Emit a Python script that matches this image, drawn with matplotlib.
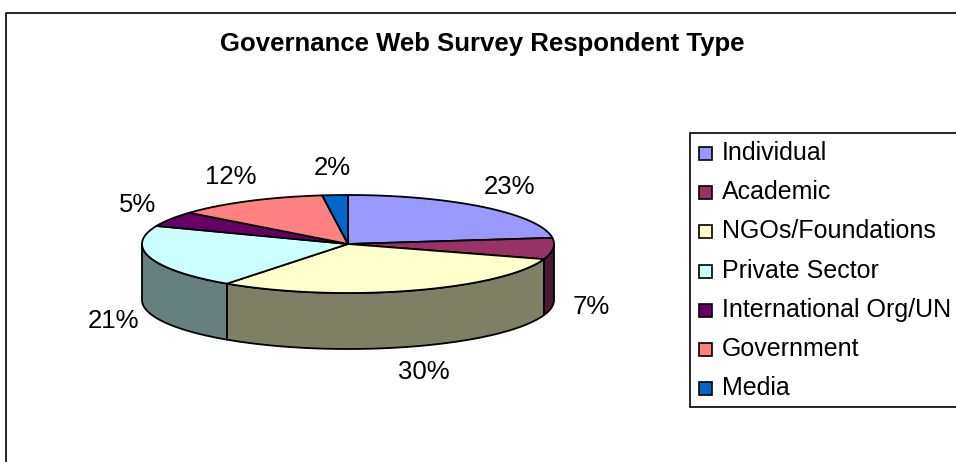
import matplotlib
matplotlib.use("Agg")
import matplotlib.pyplot as plt
import numpy as np
from matplotlib.patches import Polygon, Rectangle

plt.rcParams["font.family"] = ["Liberation Sans", "DejaVu Sans"]

title = "Governance Web Survey Respondent Type"
categories = ["Individual", "Academic", "NGOs/Foundations", "Private Sector",
              "International Org/UN", "Government", "Media"]
shares = [23, 7, 30, 21, 5, 12, 2]
top_colors = ["#9999FF", "#993366", "#FFFFCC", "#CCFFFF", "#660066", "#FF8080", "#0066CC"]
side_colors = ["#4C4C7F", "#4C1933", "#7F7F66", "#667F7F", "#330033", "#7F4040", "#003366"]

# pie geometry in pixel space
cx, cy = 348, 244
a, b = 206, 49
depth = 56


def rim(theta_deg, dy=0.0):
    t = np.radians(theta_deg)
    return np.column_stack([cx + a * np.cos(t), cy - b * np.sin(t) + dy])


fig = plt.figure(figsize=(9.56, 4.62), dpi=100)
ax = fig.add_axes([0, 0, 1, 1])
ax.set_xlim(0, 956)
ax.set_ylim(462, 0)
ax.axis("off")

# chart area border (right/bottom cut off)
ax.plot([6, 6, 956], [462, 12.5, 12.5], color="black", lw=1.2)

ax.text(482, 44, title, ha="center", va="center", fontsize=18.5, fontweight="bold")

total = float(sum(shares))
starts, ends = [], []
ang = 90.0
for v in shares:
    starts.append(ang)
    ang -= v / total * 360
    ends.append(ang)

# outer walls (front half only)
for s, e, col in zip(starts, ends, side_colors):
    lo, hi = max(e, -180), min(s, 0)
    if lo >= hi:
        continue
    th = np.linspace(hi, lo, 80)
    pts = np.vstack([rim(th), rim(th[::-1], depth)])
    ax.add_patch(Polygon(pts, closed=True, facecolor=col, edgecolor="black", lw=1.3,
                         joinstyle="round"))

# top faces
for s, e, col in zip(starts, ends, top_colors):
    th = np.linspace(s, e, 120)
    pts = np.vstack([[cx, cy], rim(th)])
    ax.add_patch(Polygon(pts, closed=True, facecolor=col, edgecolor="black", lw=1.3,
                         joinstyle="round"))

# percentage labels
for s, e, v in zip(starts, ends, shares):
    m = np.radians((s + e) / 2)
    lx = cx + (a + 38) * np.cos(m)
    ly = cy - (b + 27) * np.sin(m)
    if np.sin(m) < 0:
        ly += depth
    ax.text(lx, ly, f"{v}%", ha="center", va="center", fontsize=18.5)

# legend
ax.add_patch(Rectangle((690, 133), 300, 274, facecolor="white", edgecolor="black",
                       lw=1.2, clip_on=True))
for i, (name, col) in enumerate(zip(categories, top_colors)):
    y = 153 + i * 39.2
    ax.add_patch(Rectangle((699, y - 6), 13, 13, facecolor=col, edgecolor="black", lw=1.2))
    ax.text(722, y, name, ha="left", va="center", fontsize=18)

fig.savefig("out.png", dpi=100)
